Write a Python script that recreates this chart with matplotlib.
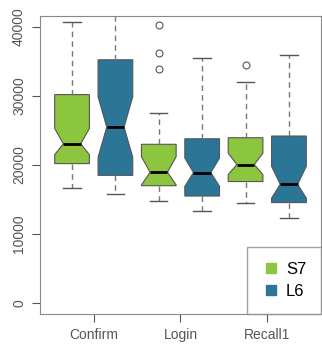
import numpy as np
import matplotlib.pyplot as plt
from matplotlib.lines import Line2D

plt.rcParams['font.family'] = ['Liberation Sans', 'DejaVu Sans']

groups = ['Confirm', 'Login', 'Recall1']
series = ['S7', 'L6']
colors = ['#8cc63e', '#2b7597']

# one entry per box, in drawing order: Confirm S7, Confirm L6, Login S7, ...
q1 = [20200, 18500, 17000, 15500, 17600, 14550]
med = [23070, 25500, 18950, 18900, 20070, 17200]
q3 = [30200, 35250, 23000, 23800, 23950, 24200]
whislo = [16700, 15800, 14750, 13400, 14460, 12300]
whishi = [40700, 43000, 27500, 35500, 32100, 35900]
cilo = [21500, 21100, 17100, 16900, 18600, 15200]
cihi = [25300, 29900, 21200, 21000, 21700, 19800]
fliers = [[], [], [40300, 36200, 33900], [], [34500], []]

fig = plt.figure(figsize=(3.22, 3.46), dpi=100)
ax = fig.add_axes([0.124, 0.0925, 0.873, 0.8613])

stats = []
for i in range(6):
    stats.append(dict(med=med[i], q1=q1[i], q3=q3[i], whislo=whislo[i],
                      whishi=whishi[i], cilo=cilo[i], cihi=cihi[i],
                      fliers=np.array(fliers[i])))

pos = np.arange(1, 7)
bp = ax.bxp(stats, positions=pos, widths=0.8, shownotches=True, patch_artist=True,
            boxprops=dict(edgecolor='#555555', linewidth=0.8),
            medianprops=dict(color='black', linewidth=2),
            whiskerprops=dict(color='#777777', linestyle=(0, (4, 3)), linewidth=1),
            capprops=dict(color='#555555', linewidth=1),
            flierprops=dict(marker='o', markerfacecolor='none', markeredgecolor='#555555',
                            markersize=5, markeredgewidth=0.8))
for i, b in enumerate(bp['boxes']):
    b.set_facecolor(colors[i % 2])

ax.set_xlim(0.26, 6.74)
ax.set_ylim(-1600, 41600)
ax.set_xticks([1.5, 3.5, 5.5])
ax.set_xticklabels(groups, fontsize=10, color='#333333')
ax.set_yticks([0, 10000, 20000, 30000, 40000])
ax.set_yticklabels(['0', '10000', '20000', '30000', '40000'], fontsize=10,
                   color='#333333', rotation=90, va='center')
ax.tick_params(colors='#555555', length=6, pad=4)
for s in ax.spines.values():
    s.set_color('#888888')

handles = [Line2D([], [], marker='s', linestyle='none', markersize=7,
                  markerfacecolor=c, markeredgecolor=c) for c in colors]
leg = ax.legend(handles, series, loc='lower right', borderaxespad=0, fancybox=False,
                fontsize=12, handletextpad=0.4, borderpad=0.9, labelspacing=0.4,
                handlelength=1.0)
leg.get_frame().set_edgecolor('#888888')
leg.get_frame().set_linewidth(1)

fig.savefig('out.png', dpi=100)
